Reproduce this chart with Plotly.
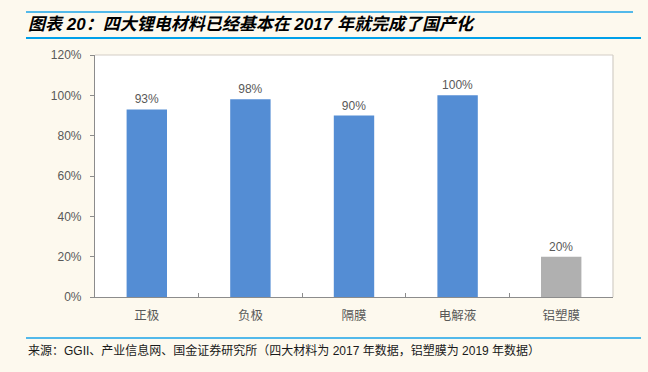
import plotly.graph_objects as go

categories = ["正极", "负极", "隔膜", "电解液", "铝塑膜"]
values = [93, 98, 90, 100, 20]
bar_colors = ["#548DD4", "#548DD4", "#548DD4", "#548DD4", "#B0B0B0"]
y_ticks = [0, 20, 40, 60, 80, 100, 120]
y_tick_labels = ["0%", "20%", "40%", "60%", "80%", "100%", "120%"]
bar_labels = [f"{v}%" for v in values]

title_text = "<b><i>图表 20：四大锂电材料已经基本在 2017 年就完成了国产化</i></b>"
source_text = "来源：GGII、产业信息网、国金证券研究所（四大材料为 2017 年数据，铝塑膜为 2019 年数据）"

W, H = 648, 372
L, R, T, B = 95, 613, 55, 297


def px(x):
    return (x - L) / (R - L)


def py(y):
    return (B - y) / (B - T)


fig = go.Figure(go.Bar(
    x=categories, y=values,
    marker=dict(color=bar_colors, line=dict(width=0)),
    text=bar_labels, texttemplate="%{text}", textposition="outside",
    textfont=dict(size=12, color="#595959", family="Liberation Sans, Arial, sans-serif"),
    cliponaxis=False, width=0.39,
))

fig.update_layout(
    width=W, height=H,
    margin=dict(l=L, r=W - R, t=T, b=H - B, pad=0),
    paper_bgcolor="#FDF9EE", plot_bgcolor="#FFFFFF",
    showlegend=False,
    font=dict(family="Liberation Sans, Noto Sans CJK SC, sans-serif", color="#595959", size=12),
    xaxis=dict(
        showline=True, linecolor="#8C8C8C", linewidth=1.2,
        ticks="inside", tickson="boundaries", ticklen=4, tickcolor="#8C8C8C",
        tickfont=dict(size=12.5, color="#595959", family="Noto Sans CJK SC, sans-serif"),
        ticklabelstandoff=7, showgrid=False,
    ),
    yaxis=dict(
        range=[0, 120], tickvals=y_ticks, ticktext=y_tick_labels,
        showline=True, linecolor="#8C8C8C", linewidth=1.2,
        ticks="outside", ticklen=4, tickcolor="#8C8C8C",
        tickfont=dict(size=12, color="#595959", family="Liberation Sans, Arial, sans-serif"),
        ticklabelstandoff=6, showgrid=False, zeroline=False,
    ),
    shapes=[
        dict(type="line", xref="paper", yref="paper", x0=px(95), x1=px(613), y0=py(55), y1=py(55),
             line=dict(color="#D3CEC6", width=1.2)),
        dict(type="line", xref="paper", yref="paper", x0=px(613), x1=px(613), y0=py(55), y1=py(297),
             line=dict(color="#D3CEC6", width=1.2)),
        dict(type="line", xref="paper", yref="paper", x0=px(26), x1=px(633), y0=py(12), y1=py(12),
             line=dict(color="#1AA3E8", width=1.5)),
        dict(type="line", xref="paper", yref="paper", x0=px(26), x1=px(641), y0=py(38), y1=py(38),
             line=dict(color="#00A0E9", width=2)),
        dict(type="line", xref="paper", yref="paper", x0=px(26), x1=px(641), y0=py(338), y1=py(338),
             line=dict(color="#1AA3E8", width=1.5)),
    ],
    annotations=[
        dict(text=title_text, xref="paper", yref="paper", x=px(26), y=py(24),
             xanchor="left", yanchor="middle", showarrow=False,
             font=dict(size=17, color="#000000", family="Liberation Sans, Noto Sans CJK SC, sans-serif")),
        dict(text=source_text, xref="paper", yref="paper", x=px(26), y=py(350),
             xanchor="left", yanchor="middle", showarrow=False,
             font=dict(size=12, color="#1A1A1A", family="Liberation Sans, Noto Sans CJK SC, sans-serif")),
    ],
)

fig.write_html("out.html", config={"displayModeBar": False},
               post_script="document.body.style.margin='0';")
